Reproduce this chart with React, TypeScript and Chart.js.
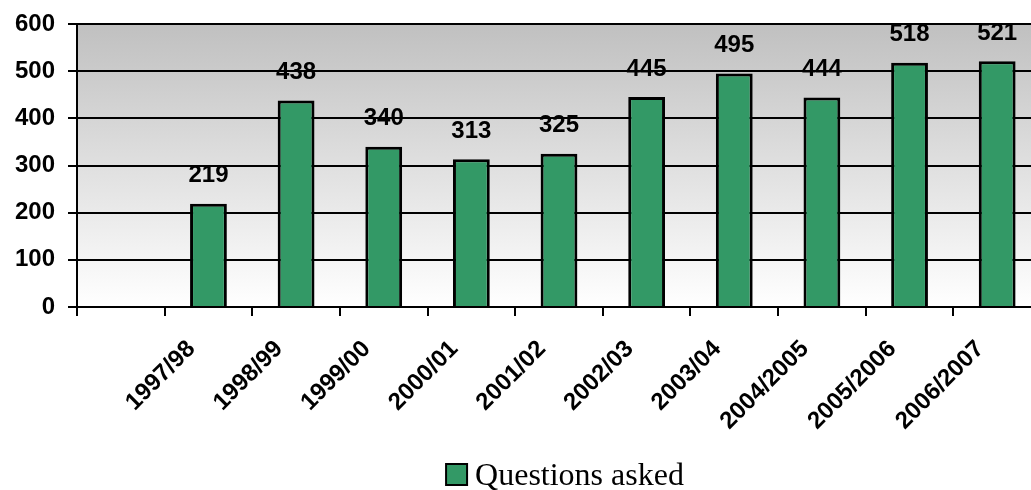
import React, { useEffect, useRef } from "react";
import { Chart, registerables } from "chart.js";

Chart.register(...registerables);

const categories = [
  "",
  "1997/98",
  "1998/99",
  "1999/00",
  "2000/01",
  "2001/02",
  "2002/03",
  "2003/04",
  "2004/2005",
  "2005/2006",
  "2006/2007",
];
const questionsAsked: (number | null)[] = [null, 219, 438, 340, 313, 325, 445, 495, 444, 518, 521];
const seriesName = "Questions asked";
const yTicks = { min: 0, max: 600, step: 100 };

const GREEN = "#339966";
const SANS = "'Liberation Sans', Arial, sans-serif";
const SERIF = "'Liberation Serif', 'Times New Roman', serif";

const bgPlugin = {
  id: "bgGradient",
  beforeDraw(chart: any) {
    const { ctx, chartArea } = chart;
    if (!chartArea) return;
    const g = ctx.createLinearGradient(0, chartArea.top, 0, chartArea.bottom);
    g.addColorStop(0, "#c0c0c0");
    g.addColorStop(1, "#ffffff");
    ctx.save();
    ctx.fillStyle = g;
    ctx.fillRect(chartArea.left, chartArea.top, chartArea.right - chartArea.left, chartArea.bottom - chartArea.top);
    ctx.restore();
  },
};

const valueLabelPlugin = {
  id: "valueLabels",
  afterDatasetsDraw(chart: any) {
    const { ctx } = chart;
    const meta = chart.getDatasetMeta(0);
    const data = chart.data.datasets[0].data;
    ctx.save();
    ctx.font = `bold 24px ${SANS}`;
    ctx.fillStyle = "#000";
    ctx.textAlign = "center";
    ctx.textBaseline = "middle";
    meta.data.forEach((el: any, i: number) => {
      const v = data[i];
      if (v == null) return;
      ctx.fillText(String(v), el.x, el.y - 28);
    });
    ctx.restore();
  },
};

const legendPlugin = {
  id: "customLegend",
  afterDraw(chart: any) {
    const { ctx, chartArea } = chart;
    const ds = chart.data.datasets[0];
    ctx.save();
    ctx.font = `32px ${SERIF}`;
    const tw = ctx.measureText(ds.label).width;
    const box = 21;
    const gap = 8;
    const total = box + gap + tw;
    const cx = (chartArea.left + chartArea.right) / 2 + 6;
    const left = cx - total / 2;
    const baseline = 485;
    ctx.fillStyle = ds.backgroundColor;
    ctx.strokeStyle = "#000";
    ctx.lineWidth = 2;
    ctx.fillRect(left, baseline - box, box, box);
    ctx.strokeRect(left, baseline - box, box, box);
    ctx.fillStyle = "#000";
    ctx.textBaseline = "alphabetic";
    ctx.textAlign = "left";
    ctx.fillText(ds.label, left + box + gap, baseline);
    ctx.restore();
  },
};

export default function App() {
  const ref = useRef<HTMLCanvasElement>(null);
  useEffect(() => {
    if (!ref.current) return;
    const chart = new Chart(ref.current, {
      type: "bar",
      data: {
        labels: categories,
        datasets: [
          {
            label: seriesName,
            data: questionsAsked,
            backgroundColor: GREEN,
            borderColor: "#000",
            borderWidth: 3,
            barPercentage: 0.42,
            categoryPercentage: 1,
          },
        ],
      },
      options: {
        animation: false,
        responsive: false,
        devicePixelRatio: 1,
        layout: { padding: { top: 24, left: 0, right: 0, bottom: 0 } },
        plugins: {
          legend: { display: false },
          tooltip: { enabled: false },
        },
        scales: {
          x: {
            type: "category",
            offset: true,
            grid: {
              offset: true,
              drawOnChartArea: false,
              drawTicks: true,
              tickLength: 9,
              color: "#000",
              lineWidth: 2,
            },
            border: { color: "#000", width: 2 },
            ticks: {
              minRotation: 45,
              maxRotation: 45,
              autoSkip: false,
              padding: 19,
              labelOffset: -17,
              color: "#000",
              font: { family: SANS, size: 24, weight: "bold" },
            },
            afterFit(scale: any) {
              scale.height = 183;
              scale.paddingLeft = 0;
              scale.paddingRight = 0;
            },
          },
          y: {
            min: yTicks.min,
            max: yTicks.max,
            ticks: {
              stepSize: yTicks.step,
              padding: 13,
              color: "#000",
              font: { family: SANS, size: 24, weight: "bold" },
            },
            grid: { color: "#000", lineWidth: 2, tickLength: 9 },
            border: { color: "#000", width: 2 },
            afterFit(scale: any) {
              scale.width = 77;
              scale.paddingTop = 0;
              scale.paddingBottom = 0;
            },
          },
        },
      } as any,
      plugins: [bgPlugin, valueLabelPlugin, legendPlugin],
    });
    return () => chart.destroy();
  }, []);
  return (
    <div style={{ position: "fixed", left: 0, top: 0, width: 1031, height: 490, overflow: "hidden", background: "#fff" }}>
      <canvas ref={ref} width={1041} height={490} style={{ width: 1041, height: 490, display: "block" }} />
    </div>
  );
}
